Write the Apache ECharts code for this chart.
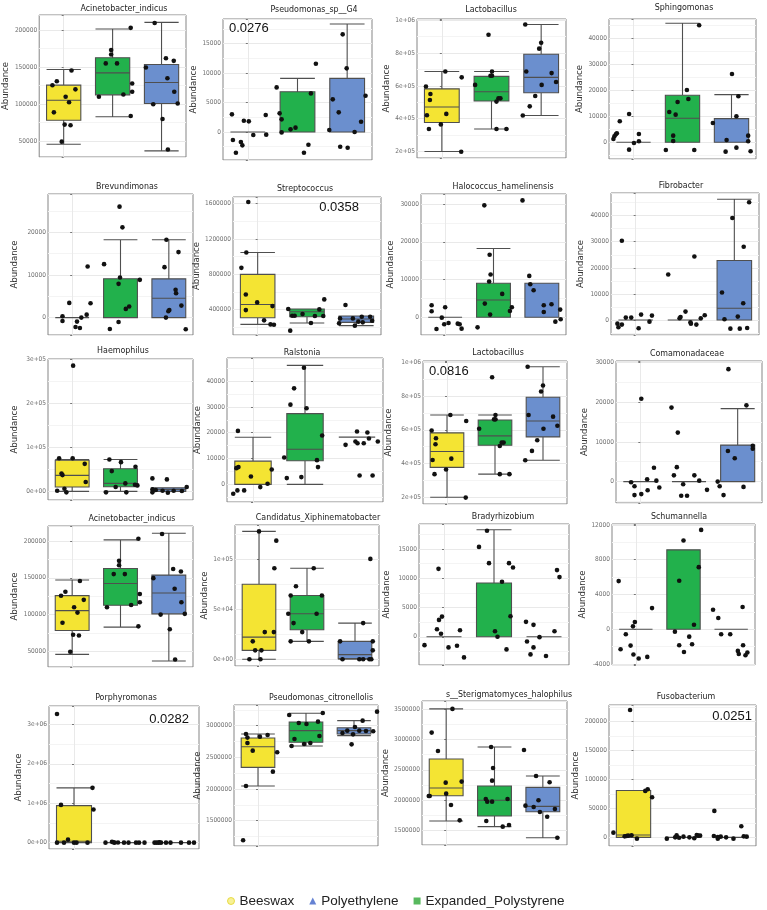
<!DOCTYPE html>
<html lang="en">
<head>
<meta charset="UTF-8">
<title>Abundance boxplots</title>
<script src="https://cdn.jsdelivr.net/npm/echarts@6/dist/echarts.min.js"></script>
<style>
html,body{margin:0;padding:0;background:#fff;}
#main{width:767px;height:910px;}
</style>
</head>
<body>
<div id="main"></div>
<script>
var groups = ['Beeswax', 'Expanded_Polystyrene', 'Polyethylene'];
var colors = ['#f4e433', '#22b14c', '#6b8fce'];
var FONT = "'Liberation Sans Narrow', 'DejaVu Sans Condensed', 'Liberation Sans', sans-serif";

// box stats per group: [min, q1, median, q3, max]
// Acinetobacter_indicus
var acinBox = [[46000,78400,105400,125700,146900],[83000,112600,142300,162600,201400],[37000,101000,129300,153600,210400]];
var acinVals = [[131000,125500,145500,120000,110000,102700,89000,72500,71600,49500],
                [203000,173000,167000,155000,155000,128000,116700,113000,110000,84000],
                [209500,162000,158500,149500,135000,116700,101000,100000,80000,39000]];
var acinJit = [[-0.14,-0.23,0.16,0.24,0.04,0.11,-0.2,0.02,0.14,-0.04],
               [0.37,-0.03,-0.03,-0.14,0.09,0.4,0.4,0.22,-0.28,0.37],
               [-0.14,0.09,0.25,-0.32,0.12,0.26,0.33,-0.17,0.02,0.13]];
// Pseudomonas_sp__G4
var psgBox = [[0,0,0,0,0],[0,0,0,6850,9110],[0,0,0,9110,18340]];
var psgVals = [[3000,1920,1810,2890,-1360,-1700,-2260,-3510,-510,-450],
               [11600,7580,6560,3170,2150,740,450,-60,-2150,-3510],
               [16580,10810,5550,6170,3340,1750,340,0,-2490,-2660]];
var psgJit = [[-0.32,-0.08,0.02,0.36,-0.3,-0.14,-0.11,-0.24,0.11,0.37],
              [0.37,-0.42,0.27,-0.36,-0.32,-0.04,-0.14,-0.32,0.22,0.13],
              [-0.09,-0.01,-0.29,0.37,-0.17,0.28,-0.36,0.15,-0.14,0.01]];
// Lactobacillus
var lactBox = [[200000,377000,471000,582000,688000],[337000,508000,564000,658000,688000],[419000,558000,652000,793000,974000]];
var lactVals = [[688000,652000,596000,550000,514000,429000,421000,365000,337000,198000],
                [912000,688000,662000,662000,606000,524000,524000,504000,337000,337000],
                [974000,863000,827000,688000,678000,624000,606000,538000,475000,419000]];
var lactJit = [[0.07,0.4,-0.32,-0.23,-0.24,0.09,-0.3,-0.02,-0.26,0.39],
               [-0.06,0.01,-0.02,0.01,-0.33,0.18,0.14,0.1,0.1,0.3],
               [-0.32,0,-0.04,-0.3,0.21,0.3,0.01,-0.12,-0.23,-0.37]];
// Sphingomonas
var sphBox = [[0,0,0,0,0],[0,0,9210,18030,45660],[0,0,0,9080,18290]];
var sphVals = [[10870,8060,3450,3070,2300,1280,3200,380,-260,-2810],
               [44890,20080,16630,15480,11640,10620,2560,510,-2940,-2940],
               [26220,17650,9980,7420,900,2560,380,-2050,-3580,-3450]];
var sphJit = [[-0.09,-0.28,-0.34,-0.36,-0.39,-0.41,0.11,0.11,0.01,-0.09],
              [0.34,0.09,0.12,-0.1,-0.27,-0.14,-0.19,-0.19,-0.34,0.24],
              [0.01,0.14,0.1,-0.38,-0.1,0.34,0.34,0.1,-0.12,0.39]];
// Brevundimonas
var brevBox = [[0,0,0,0,0],[0,0,9100,9100,18270],[0,0,4550,9090,18270]];
var brevVals = [[12000,3450,3370,700,310,0,-780,-940,-2200,-2430],
                [26030,21170,12540,9410,7920,8860,2590,2040,-1020,-2670],
                [18270,15370,11840,6510,5720,2820,1800,1490,0,-2740]];
var brevJit = [[0.32,-0.06,0.38,0.3,-0.2,0.19,-0.2,0.1,0.07,0.16],
               [-0.02,0.04,-0.34,-0.01,-0.04,0.4,0.18,0.11,-0.04,-0.22],
               [-0.05,0.2,-0.09,0.14,0.15,0.26,0.01,-0.01,-0.06,0.35]];
// Streptococcus
var strBox = [[234000,310000,460000,800000,1047000],[250000,321000,377000,408000,408000],[220000,257000,295000,329000,329000]];
var strVals = [[1619000,1047000,874000,573000,483000,396000,441000,280000,234000,230000],
               [517000,408000,404000,351000,332000,329000,329000,250000,163000,332000],
               [453000,302000,302000,321000,321000,276000,265000,257000,220000,246000]];
var strJit = [[-0.19,-0.23,-0.33,-0.24,-0.01,-0.24,0.3,0.13,0.26,0.33],
              [0.35,-0.38,0.25,-0.09,-0.3,0.16,0.33,0.08,-0.34,-0.25],
              [-0.22,-0.33,-0.07,0.11,0.28,0.32,0.04,0.13,-0.03,-0.35]];
// Halococcus_hamelinensis
var halBox = [[0,0,0,0,0],[0,0,4600,9030,18230],[0,0,0,9030,9030]];
var halVals = [[3190,2660,1590,-90,-1500,-1860,-1680,-1860,-3010,-3100],
               [29650,16550,11330,9470,6200,3630,2660,1680,710,-2660],
               [30970,10970,8760,7170,3190,3450,1420,2040,-530,-1150]];
var halJit = [[-0.28,0,-0.28,-0.07,0.07,-0.02,0.26,0.3,0.34,-0.18],
              [-0.19,-0.08,-0.06,-0.09,0.18,-0.18,0.38,0.34,-0.07,-0.33],
              [-0.4,-0.26,-0.24,-0.17,0.04,0.2,0.04,0.38,0.39,0.28]];
// Fibrobacter
var fibBox = [[0,0,0,0,0],[0,0,0,0,0],[0,0,4490,22820,46280]];
var fibVals = [[30380,2050,1670,900,900,-640,-1410,-1790,-2820,-3200],
               [17430,24360,3210,1150,640,1800,640,-900,-1410,-1790],
               [45130,39100,28080,10510,6410,1280,260,-3330,-3330,-3080]];
var fibJit = [[-0.28,0.11,0.33,-0.2,-0.09,0.28,-0.37,-0.28,-0.35,0.06],
              [-0.34,0.19,0.01,-0.09,-0.11,0.4,0.32,0.11,0.12,0.23],
              [0.3,-0.04,0.19,-0.25,0.18,0.07,-0.2,-0.08,0.11,0.26]];
// Haemophilus
var haeBox = [[0,9800,36300,71000,72600],[0,10600,18100,51400,72600],[0,0,4500,8300,8300]];
var haeVals = [[286500,75600,75600,62700,40800,37000,21200,6000,1500,-2300],
               [72600,66500,46100,55900,18100,15100,9800,13600,-2300,-2300],
               [29500,27200,9800,4500,3000,-3000,1500,-2300,1500,760]];
var haeJit = [[0.02,-0.27,0.01,0.26,-0.22,-0.2,0.28,-0.16,-0.31,-0.12],
              [-0.23,0.01,-0.18,0.31,0.1,0.3,-0.1,0.35,-0.3,0.12],
              [-0.34,-0.04,0.37,-0.34,-0.27,-0.02,0.1,-0.34,-0.13,0.27]];
// Ralstonia
var ralBox = [[0,0,0,9000,18260],[0,9130,13630,27390,46040],[18300,18300,18300,18300,18300]];
var ralVals = [[20700,6690,6300,3090,5790,260,-1030,-2310,-2310,-3600],
               [45140,37170,30860,29450,18900,10420,9390,6690,2830,2440],
               [20450,20060,15300,16590,15950,15950,17750,16590,3470,3470]];
var ralJit = [[-0.29,-0.28,-0.32,-0.04,0.36,0.28,0.14,-0.17,-0.3,-0.38],
              [-0.02,-0.21,-0.28,0.03,0.33,-0.4,0.23,0.25,-0.07,-0.35],
              [0,0.2,-0.22,-0.03,0.01,0.13,0.23,0.4,0.05,0.3]];
// Comamonadaceae
var comBox = [[0,0,0,0,0],[0,0,0,0,0],[0,0,0,9170,18340]];
var comVals = [[20820,3470,580,250,-170,-1160,-2150,-1490,-3390,-3140],
               [18590,12310,3630,1570,1570,250,-660,-2070,-3550,-3550],
               [28250,19160,9000,8260,7680,5860,0,-1160,-1320,-3390]];
var comJit = [[0.02,0.28,0.14,0.33,-0.19,-0.12,0.15,0.39,-0.12,0.02],
              [-0.36,-0.23,-0.25,-0.31,0.11,0.21,-0.12,0.37,-0.16,-0.04],
              [-0.19,0.18,0.31,0.31,-0.2,-0.06,-0.41,-0.37,0.12,-0.29]];
// Candidatus_Xiphinematobacter
var xipBox = [[0,9000,22300,75300,128300],[18000,29700,45700,64000,91300],[0,700,4700,18000,36300]];
var xipVals = [[128300,119000,91300,27300,27300,18000,9000,9000,0,0],
               [91300,73300,64000,64000,45700,45700,36300,27300,18000,18000],
               [100700,36300,18000,18000,9000,0,0,0,0,0]];
var xipJit = [[0,0.36,0.32,0.12,0.31,-0.13,-0.08,0.05,-0.2,0.03],
              [0.14,-0.23,-0.34,0.31,-0.39,0.2,-0.28,-0.1,-0.34,0.04],
              [0.32,0.17,-0.31,0.37,0.37,-0.26,0.09,0.17,0.3,0.34]];
// Bradyrhizobium
var braBox = [[0,0,0,0,0],[0,0,9170,9170,18280],[0,0,0,0,0]];
var braVals = [[11600,3450,2890,1300,510,1130,-1420,-1810,-1530,-3510],
               [18110,15340,12570,12570,11830,9400,3510,960,0,-2150],
               [11380,10190,2550,2040,960,-790,-60,-1810,-3000,-3280]];
var braJit = [[-0.11,-0.04,-0.1,-0.14,-0.06,0.32,-0.39,0.09,0.26,0.4],
              [-0.14,-0.3,-0.1,0.3,0.38,0.16,0.33,0.02,0.07,0.25],
              [0.26,0.31,-0.36,-0.21,0.21,-0.34,-0.09,-0.21,-0.27,0.04]];
// Schumannella
var schBox = [[0,0,0,0,0],[0,0,0,9130,9130],[0,0,0,0,0]];
var schVals = [[5540,2440,840,340,-570,-1870,-2290,-2900,-3170,-3360],
               [11420,10200,7140,5580,530,-270,-840,-1830,-1720,-2600],
               [2250,2560,1300,-570,-570,-1830,-2480,-2830,-2980,-2670]];
var schJit = [[-0.36,0.34,-0.02,-0.06,-0.21,-0.11,-0.32,-0.05,0.24,0.06],
              [0.37,0,0.32,-0.09,0.22,-0.18,0.12,-0.09,0.18,0.01],
              [-0.38,0.24,-0.27,-0.21,-0.02,0.25,0.14,0.16,0.3,0.34]];
// Porphyromonas
var porBox = [[0,0,34000,940000,1390000],[0,0,0,0,0],[0,0,0,0,0]];
var porVals = [[3263000,1390000,958000,839000,76000,0,0,0,0,0],
               [0,20000,0,5000,0,0,0,10000,0,0],
               [0,0,0,0,0,0,0,10000,0,0]];
var porJit = [[-0.34,0.37,-0.26,0.39,-0.12,-0.34,-0.2,0,0.05,0.27],
              [-0.37,-0.24,-0.19,-0.12,0.09,0.24,0.41,-0.21,0,0.3],
              [-0.39,-0.31,-0.26,-0.16,-0.07,0.14,0.4,-0.29,0.3,-0.35]];
// Pseudomonas_citronellolis
var pscBox = [[2047000,2342000,2668000,2805000,2868000],[2679000,2737000,2921000,3058000,3195000],[2842000,2868000,2921000,2968000,3079000]];
var pscVals = [[2868000,2853000,2811000,2826000,2726000,2605000,2579000,2274000,2047000,1190000],
               [3168000,3200000,3042000,3026000,3063000,2837000,2789000,2711000,2726000,2679000],
               [3221000,3079000,2979000,2921000,2916000,2911000,2884000,2863000,2705000,2921000]];
var pscJit = [[-0.25,0.2,-0.22,0.04,-0.22,-0.11,0.4,0.31,-0.25,-0.31],
              [-0.35,0.35,-0.15,0.01,0.25,0.28,-0.24,-0.04,0.09,-0.3],
              [0.48,0.18,0.02,0.11,0.25,0.4,-0.24,-0.02,-0.05,-0.14]];
// s__Sterigmatomyces_halophilus
var sthBox = [[1659000,2075000,2201000,2678000,3500000],[1566000,1741000,1999000,2234000,2875000],[1385000,1812000,1900000,2212000,2399000]];
var sthVals = [[3500000,3111000,2810000,2289000,2306000,2108000,2070000,2070000,1922000,1670000],
               [2875000,2530000,2322000,2021000,1977000,1977000,2021000,1593000,1566000,1659000],
               [2826000,2399000,2295000,1999000,1911000,1889000,1807000,1856000,1730000,1385000]];
var sthJit = [[0.13,-0.3,-0.17,-0.01,0.32,0,-0.36,-0.34,0.1,0.28],
              [-0.07,-0.03,-0.05,-0.18,-0.15,-0.05,0.27,0.3,0.17,-0.17],
              [-0.39,-0.14,0.14,-0.09,-0.36,-0.19,-0.06,0.25,0.09,0.3]];
// Fusobacterium
var fusBox = [[0,0,4000,81000,81000],[0,0,0,0,0],[0,0,0,0,0]];
var fusVals = [[220200,83200,80300,69400,8100,2300,2900,3500,-2300,1700],
               [-2300,3500,0,1200,0,-1700,4000,2900,2900,-600],
               [45700,19100,2300,-2300,1200,0,-2300,1700,1200,600]];
var fusJit = [[-0.07,0.29,0.24,0.38,-0.41,-0.14,-0.11,-0.04,0.07,-0.18],
              [-0.32,-0.12,-0.15,0.02,0.14,0.24,0.29,0.32,0.36,-0.07],
              [-0.35,0.2,-0.36,-0.28,-0.22,-0.11,0.04,0.25,0.31,-0.28]];

var pLabels = ['0.0276', '0.0358', '0.0816', '0.0282', '0.0251'];

// y: [min, max, tick step]; rect: [left, top, right, bottom]; t: title centre
var panels = [
  {name:'Acinetobacter_indicus', box:acinBox, vals:acinVals, jit:acinJit, y:[28800,220300,50000], sci:false, rect:[35,15,186,157], t:[124,10], gap:24},
  {name:'Pseudomonas_sp__G4', box:psgBox, vals:psgVals, jit:psgJit, y:[-4750,19190,5000], sci:false, rect:[223,19,372,160], t:[314,11], gap:20},
  {name:'Lactobacillus', box:lactBox, vals:lactVals, jit:lactJit, y:[160000,1008000,200000], sci:true, rect:[417,19,566,158], t:[491,11], gap:21},
  {name:'Sphingomonas', box:sphBox, vals:sphVals, jit:sphJit, y:[-6400,47300,10000], sci:false, rect:[609,19,756,159], t:[684,9], gap:23},
  {name:'Brevundimonas', box:brevBox, vals:brevVals, jit:brevJit, y:[-4080,29000,10000], sci:false, rect:[48,194,193,335], t:[127,188], gap:28},
  {name:'Streptococcus', box:strBox, vals:strVals, jit:strJit, y:[114000,1676000,400000], sci:false, rect:[233,197,381,335], t:[305,190], gap:26},
  {name:'Halococcus_hamelinensis', box:halBox, vals:halVals, jit:halJit, y:[-4690,32660,10000], sci:false, rect:[421,194,566,335], t:[503,188], gap:25},
  {name:'Fibrobacter', box:fibBox, vals:fibVals, jit:fibJit, y:[-5770,48700,10000], sci:false, rect:[611,193,759,335], t:[681,187], gap:25},
  {name:'Haemophilus', box:haeBox, vals:haeVals, jit:haeJit, y:[-19700,301600,100000], sci:true, rect:[48,359,193,500], t:[123,352], gap:28},
  {name:'Ralstonia', box:ralBox, vals:ralVals, jit:ralJit, y:[-6800,48900,10000], sci:false, rect:[227,358,383,502], t:[302,354], gap:20},
  {name:'Lactobacillus', box:lactBox, vals:lactVals, jit:lactJit, y:[160000,1008000,200000], sci:true, rect:[423,361,567,504], t:[498,354], gap:29},
  {name:'Comamonadaceae', box:comBox, vals:comVals, jit:comJit, y:[-5370,30300,10000], sci:false, rect:[616,361,762,503], t:[687,355], gap:26},
  {name:'Acinetobacter_indicus', box:acinBox, vals:acinVals, jit:acinJit, y:[28800,220300,50000], sci:false, rect:[48,526,193,667], t:[132,520], gap:25},
  {name:'Candidatus_Xiphinematobacter', box:xipBox, vals:xipVals, jit:xipJit, y:[-6700,134700,50000], sci:true, rect:[235,525,379,666], t:[318,519], gap:22},
  {name:'Bradyrhizobium', box:braBox, vals:braVals, jit:braJit, y:[-4810,19250,5000], sci:false, rect:[419,524,569,665], t:[503,518], gap:27},
  {name:'Schumannella', box:schBox, vals:schVals, jit:schJit, y:[-4100,12100,4000], sci:false, rect:[612,524,755,665], t:[679,518], gap:21},
  {name:'Porphyromonas', box:porBox, vals:porVals, jit:porJit, y:[-161000,3466000,1000000], sci:true, rect:[49,706,199,849], t:[126,699], gap:22},
  {name:'Pseudomonas_citronellolis', box:pscBox, vals:pscVals, jit:pscJit, y:[1100000,3326000,500000], sci:false, rect:[234,705,378,846], t:[321,699], gap:25},
  {name:'s__Sterigmatomyces_halophilus', box:sthBox, vals:sthVals, jit:sthJit, y:[1265000,3630000,500000], sci:false, rect:[422,701,567,845], t:[509,696], gap:25},
  {name:'Fusobacterium', box:fusBox, vals:fusVals, jit:fusJit, y:[-15000,228900,50000], sci:false, rect:[609,705,756,846], t:[686,698], gap:26}
];
// where each p-value sits: [x, y, align]
var pPos = [[229,28,'left'], [359,207,'right'], [429,371,'left'], [189,719,'right'], [752,716,'right']];

function sci(v) {
  if (v === 0) return '0e+00';
  var e = Math.floor(Math.log10(Math.abs(v)) + 1e-9);
  var m = Math.round(v / Math.pow(10, e));
  return m + 'e+' + (e < 10 ? '0' : '') + e;
}

var grid = [], xAxis = [], yAxis = [], series = [], title = [], graphic = [];

panels.forEach(function (p, i) {
  var r = p.rect;
  grid.push({left: r[0], top: r[1], width: r[2] - r[0], height: r[3] - r[1],
    show: true, borderColor: '#858585', borderWidth: 1, backgroundColor: '#fff'});
  xAxis.push({type: 'category', gridIndex: i, data: groups,
    axisLine: {show: false}, axisLabel: {show: false},
    axisTick: {alignWithLabel: true, length: 2, lineStyle: {color: '#666'}},
    splitLine: {show: true, alignWithLabel: true, lineStyle: {color: '#e9e9e9', width: 1}}});
  xAxis.push({type: 'value', gridIndex: i, min: -0.5, max: 2.5, show: false});
  var step = p.y[2];
  yAxis.push({type: 'value', gridIndex: i, min: p.y[0], max: p.y[1],
    minInterval: step, maxInterval: step,
    name: 'Abundance', nameLocation: 'middle', nameGap: p.gap,
    nameTextStyle: {fontSize: 9.5, color: '#333', fontFamily: FONT},
    axisLine: {show: false},
    axisTick: {show: true, length: 2, lineStyle: {color: '#777'}},
    axisLabel: {fontSize: 6.5, color: '#6e6e6e', margin: 2, fontFamily: FONT,
      formatter: function (v) {
        var q = v / step;
        if (Math.abs(q - Math.round(q)) > 1e-6) return '';
        return p.sci ? sci(v) : String(v);
      }},
    splitLine: {lineStyle: {color: '#e9e9e9', width: 1}},
    minorTick: {show: false, splitNumber: 2},
    minorSplitLine: {show: true, lineStyle: {color: '#f4f4f4', width: 1}}});
  series.push({type: 'boxplot', xAxisIndex: 2 * i, yAxisIndex: i,
    boxWidth: ['70%', '70%'], silent: true,
    itemStyle: {borderColor: '#4f4f4f', borderWidth: 1.1},
    data: p.box.map(function (b, k) {
      return {value: b, itemStyle: {color: colors[k]}};
    })});
  var pts = [];
  p.vals.forEach(function (arr, k) {
    arr.forEach(function (v, j) { pts.push([k + p.jit[k][j], v]); });
  });
  series.push({type: 'scatter', xAxisIndex: 2 * i + 1, yAxisIndex: i,
    symbolSize: 4.6, silent: true, itemStyle: {color: '#111', opacity: 1}, data: pts});
  title.push({text: p.name, left: p.t[0], top: p.t[1] - 6, textAlign: 'center', padding: 0,
    textStyle: {fontSize: 8.8, fontWeight: 'normal', color: '#222', fontFamily: FONT}});
});

pLabels.forEach(function (s, i) {
  graphic.push({type: 'text', x: pPos[i][0], y: pPos[i][1], z: 100,
    style: {text: s, fill: '#111', font: '13px "Liberation Sans", sans-serif',
      textAlign: pPos[i][2], textVerticalAlign: 'middle'}});
});

// legend-only series
series.push({name: 'Beeswax', type: 'scatter', xAxisIndex: 1, yAxisIndex: 0, data: [], itemStyle: {color: '#f2e84a'}});
series.push({name: 'Polyethylene', type: 'scatter', xAxisIndex: 1, yAxisIndex: 0, data: [], itemStyle: {color: '#3f63c8'}});
series.push({name: 'Expanded_Polystyrene', type: 'scatter', xAxisIndex: 1, yAxisIndex: 0, data: [], itemStyle: {color: '#2ea836'}});

var option = {
  animation: false,
  backgroundColor: '#fff',
  title: title,
  grid: grid,
  xAxis: xAxis,
  yAxis: yAxis,
  graphic: graphic,
  legend: {
    left: 222, top: 889, itemWidth: 7, itemHeight: 7, itemGap: 15,
    textStyle: {fontSize: 13.5, color: '#222', fontFamily: "'Liberation Sans', sans-serif"},
    data: [
      {name: 'Beeswax', icon: 'circle', itemStyle: {color: '#f5ee7a', borderColor: '#e4d42a', borderWidth: 1}},
      {name: 'Polyethylene', icon: 'triangle'},
      {name: 'Expanded_Polystyrene', icon: 'rect'}
    ]
  },
  series: series
};

var chart = echarts.init(document.getElementById('main'));
chart.setOption(option);
</script>
</body>
</html>
